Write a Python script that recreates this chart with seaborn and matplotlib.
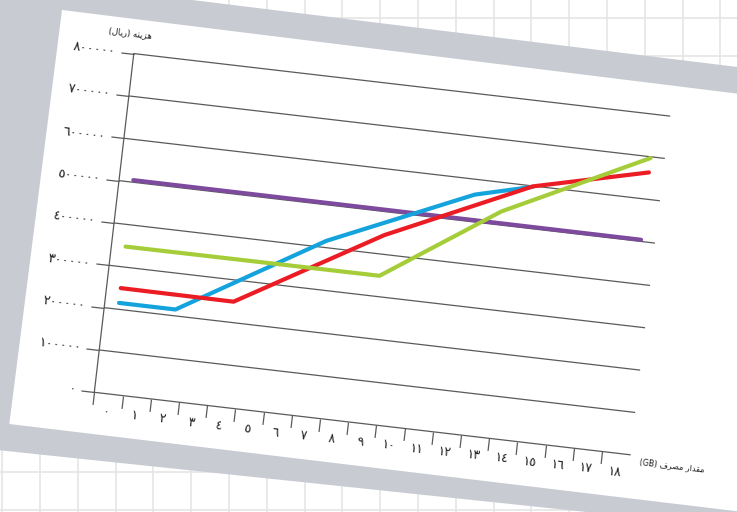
import numpy as np
import matplotlib
matplotlib.use('Agg')
import matplotlib.pyplot as plt
import seaborn as sns
from matplotlib.patches import Polygon
from matplotlib.transforms import Affine2D
import mpl_toolkits.axisartist.floating_axes as floating_axes
from mpl_toolkits.axisartist.grid_finder import FixedLocator, DictFormatter

# usage (GB) categories and their labels
usage_gb = list(range(19))
x_labels = ['٠', '١', '٢', '٣', '٤', '٥', '٦', '٧', '٨', '٩', '١٠',
            '١١', '١٢', '١٣', '١٤', '١٥', '١٦', '١٧', '١٨']

# cost axis (rial)
y_ticks = [0, 100000, 200000, 300000, 400000, 500000, 600000, 700000, 800000]
y_labels = ['٠', '١٠٠٠٠٠', '٢٠٠٠٠٠', '٣٠٠٠٠٠', '٤٠٠٠٠٠',
            '٥٠٠٠٠٠', '٦٠٠٠٠٠', '٧٠٠٠٠٠', '٨٠٠٠٠٠']

# cost of each plan, break points only
purple_x = [0, 18]
purple_y = [505000, 504000]
blue_x = [0, 2, 7, 12, 14]
blue_y = [215000, 215000, 416000, 564000, 598000]
red_x = [0, 4, 9, 14, 18]
red_y = [250000, 249000, 445000, 599000, 663000]
green_x = [0, 9, 13, 18]
green_y = [348000, 349000, 532000, 697000]

# axis titles: "هزینه (ریال)" and "مقدار مصرف (GB)", shaped for left-to-right drawing
y_title = '(\uFEDD\uFE8E\uFEF3\uFEAD) \uFEEA\uFEE8\uFEF3\uFEB0\uFEEB'
x_title = '(GB) \uFED1\uFEAE\uFEBC\uFEE3 \uFEAD\uFE8D\uFEAA\uFED8\uFEE3'

PURPLE = '#7e4a9e'
BLUE = '#14a3dc'
RED = '#ec1c24'
GREEN = '#a5cd39'
LINE_C = '#5a5a5a'
TEXT_C = '#222222'

sns.set_theme(style='white')
plt.rcParams['font.family'] = ['DejaVu Sans']

W, H = 737, 512
fig = plt.figure(figsize=(W / 100, H / 100), dpi=100)

# background: graph paper, grey card, tilted white sheet
bg = fig.add_axes([0, 0, 1, 1])
bg.set_xlim(0, W)
bg.set_ylim(H, 0)
bg.axis('off')
bg.vlines(np.arange(2.3, W, 37.8), 0, H, color='#e5e5e5', lw=1.2, zorder=0)
bg.hlines(np.arange(18.1, H, 37.8), 0, W, color='#e5e5e5', lw=1.2, zorder=0)
bg.add_patch(Polygon([(-60, -31), (900, 87), (900, 545), (-60, 444)],
                     fc='#c8cbd2', ec='none', zorder=1))
bg.add_patch(Polygon([(62, 10), (9.3, 424), (1002, 543), (1055, 133)],
                     fc='white', ec='none', zorder=2))

# tilted chart frame
THETA = 6.65
BIN_PX = 28.4
Y_PX = 341.0 / 800000
ORIGIN = (94.3, 392.3)  # pixel position of the chart origin (from top-left)
tr = Affine2D().translate(0.5, 0).scale(BIN_PX, Y_PX).rotate_deg(-THETA)
extremes = (-0.5, 18.5, 0, 800000)

corners = tr.transform([[-0.5, 0], [18.5, 0], [-0.5, 800000], [18.5, 800000]])
x0, y0 = corners.min(axis=0)
x1, y1 = corners.max(axis=0)
cx, cy = (x0 + x1) / 2, (y0 + y1) / 2
bw, bh = (x1 - x0) * 1.02, (y1 - y0) * 1.02
px_left = ORIGIN[0] + cx - bw / 2
px_bottom = (H - ORIGIN[1]) + cy - bh / 2
pos = [px_left / W, px_bottom / H, bw / W, bh / H]

y_fmt = DictFormatter(dict(zip(y_ticks, y_labels)))


def make_frame(x_locs, x_fmt):
    gh = floating_axes.GridHelperCurveLinear(
        tr, extremes=extremes,
        grid_locator1=FixedLocator(x_locs), tick_formatter1=DictFormatter(x_fmt),
        grid_locator2=FixedLocator(y_ticks), tick_formatter2=y_fmt)
    a = fig.add_axes(pos, axes_class=floating_axes.FloatingAxes, grid_helper=gh)
    a.set_facecolor('none')
    a.axis['right'].set_visible(False)
    return a


ax = make_frame([k - 0.5 for k in usage_gb], {})
for side in ['left', 'bottom', 'top']:
    art = ax.axis[side]
    art.line.set_color(LINE_C)
    art.line.set_linewidth(0.9)
    art.major_ticks.set_tick_out(True)
    art.major_ticks.set_color(LINE_C)
    art.major_ticks.set_markeredgewidth(0.9)
# top edge acts as the 800000 grid line only
ax.axis['top'].major_ticks.set_visible(False)
ax.axis['top'].major_ticklabels.set_visible(False)
ax.axis['left'].major_ticks.set_ticksize(9.5)
ax.axis['bottom'].major_ticks.set_ticksize(9)
ax.axis['left'].major_ticklabels.set_fontsize(9.5)
ax.axis['left'].major_ticklabels.set_color(TEXT_C)
ax.axis['left'].major_ticklabels.set_pad(4)
ax.axis['bottom'].major_ticklabels.set_visible(False)
ax.grid(True, axis='y', color=LINE_C, linewidth=0.9)

# second frame only for the category labels, centred between tick marks
ax2 = make_frame(usage_gb, dict(zip(usage_gb, x_labels)))
ax2.axis['left'].set_visible(False)
ax2.axis['top'].set_visible(False)
ax2.axis['bottom'].line.set_visible(False)
ax2.axis['bottom'].major_ticks.set_visible(False)
ax2.axis['bottom'].major_ticklabels.set_fontsize(9)
ax2.axis['bottom'].major_ticklabels.set_color(TEXT_C)
ax2.axis['bottom'].major_ticklabels.set_pad(10)
ax2.grid(False)

bg.set_zorder(0)
ax.set_zorder(1)
ax2.set_zorder(2)

aux = ax.get_aux_axes(tr)
for xs, ys, col in [(purple_x, purple_y, PURPLE), (blue_x, blue_y, BLUE),
                    (red_x, red_y, RED), (green_x, green_y, GREEN)]:
    sns.lineplot(x=xs, y=ys, ax=aux, color=col, linewidth=3, errorbar=None, legend=False)

aux.text(18.85, -14000, x_title, rotation=-THETA, rotation_mode='anchor',
         ha='left', va='center', fontsize=5.8, color=TEXT_C, clip_on=False)
aux.text(-0.72, 847000, y_title, rotation=-THETA, rotation_mode='anchor',
         ha='center', va='center', fontsize=6.2, color=TEXT_C, clip_on=False)

fig.savefig('out.png', dpi=100)
